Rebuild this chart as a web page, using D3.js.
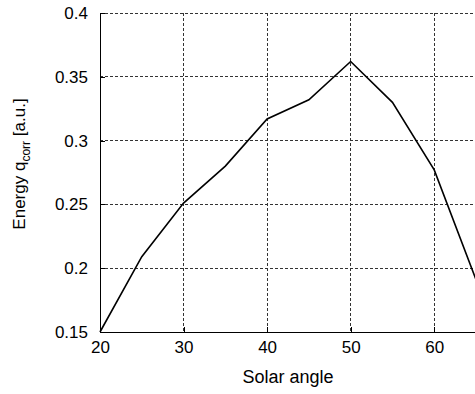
<!DOCTYPE html>
<html>
<head>
<meta charset="utf-8">
<script src="https://cdn.jsdelivr.net/npm/d3@7"></script>
<style>
  html, body { margin: 0; padding: 0; background: #fff; overflow: hidden; }
  svg { display: block; font-family: "Liberation Sans", Arial, sans-serif; }
</style>
</head>
<body>
<svg id="chart" width="475" height="394"></svg>
<script>
// Solar angle (degrees) and corrected energy (arbitrary units)
const angles = [20, 25, 30, 35, 40, 45, 50, 55, 60, 65];
const energy = [0.150, 0.209, 0.251, 0.280, 0.317, 0.332, 0.362, 0.330, 0.277, 0.191];
const xTicks = [20, 30, 40, 50, 60];
const yTicks = [0.15, 0.2, 0.25, 0.3, 0.35, 0.4];
const xLabel = "Solar angle";

const svg = d3.select("#chart");
const plotL = 100, plotR = 476, plotT = 13, plotB = 332;

const x = d3.scaleLinear().domain([20, 65]).range([plotL, plotR]);
const y = d3.scaleLinear().domain([0.15, 0.4]).range([plotB, plotT]);

// dashed grid (the 0.4 line doubles as the top edge)
const grid = svg.append("g")
  .attr("stroke", "#333").attr("stroke-width", 1)
  .attr("stroke-dasharray", "3,2").attr("shape-rendering", "crispEdges");
grid.selectAll("line.v").data(xTicks.filter(d => d > 20)).join("line")
  .attr("x1", d => x(d)).attr("x2", d => x(d)).attr("y1", plotT).attr("y2", plotB);
grid.selectAll("line.h").data(yTicks.filter(d => d > 0.15)).join("line")
  .attr("x1", plotL).attr("x2", plotR).attr("y1", d => y(d)).attr("y2", d => y(d));

// axes with inward ticks
const xAxis = d3.axisBottom(x).tickValues(xTicks).tickSize(-5).tickPadding(9)
  .tickFormat(d3.format("d"));
const yAxis = d3.axisLeft(y).tickValues(yTicks).tickSize(-5).tickPadding(12)
  .tickFormat(d => String(+d.toFixed(2)));

const gx = svg.append("g").attr("transform", `translate(0,${plotB})`).call(xAxis);
const gy = svg.append("g").attr("transform", `translate(${plotL},0)`).call(yAxis);
[gx, gy].forEach(g => {
  g.selectAll("path.domain").attr("stroke", "#000").attr("shape-rendering", "crispEdges");
  g.selectAll(".tick line").attr("stroke", "#000").attr("shape-rendering", "crispEdges");
  g.selectAll(".tick text").attr("fill", "#000").style("font-size", "17px")
    .style("font-family", "'Liberation Sans', Arial, sans-serif");
});

// data line
const line = d3.line().x((d, i) => x(angles[i])).y(d => y(d));
svg.append("path").datum(energy)
  .attr("d", line).attr("fill", "none")
  .attr("stroke", "#000").attr("stroke-width", 1.6).attr("stroke-linejoin", "miter");

// axis titles
svg.append("text").attr("x", (plotL + plotR) / 2).attr("y", 383)
  .attr("text-anchor", "middle").style("font-size", "18px").text(xLabel);

const yt = svg.append("text")
  .attr("transform", "translate(25,164) rotate(-90)")
  .attr("text-anchor", "middle").style("font-size", "17px");
yt.append("tspan").text("Energy q");
yt.append("tspan").attr("dy", 5).style("font-size", "12px").text("corr");
yt.append("tspan").attr("dy", -5).text(" [a.u.]");
</script>
</body>
</html>
